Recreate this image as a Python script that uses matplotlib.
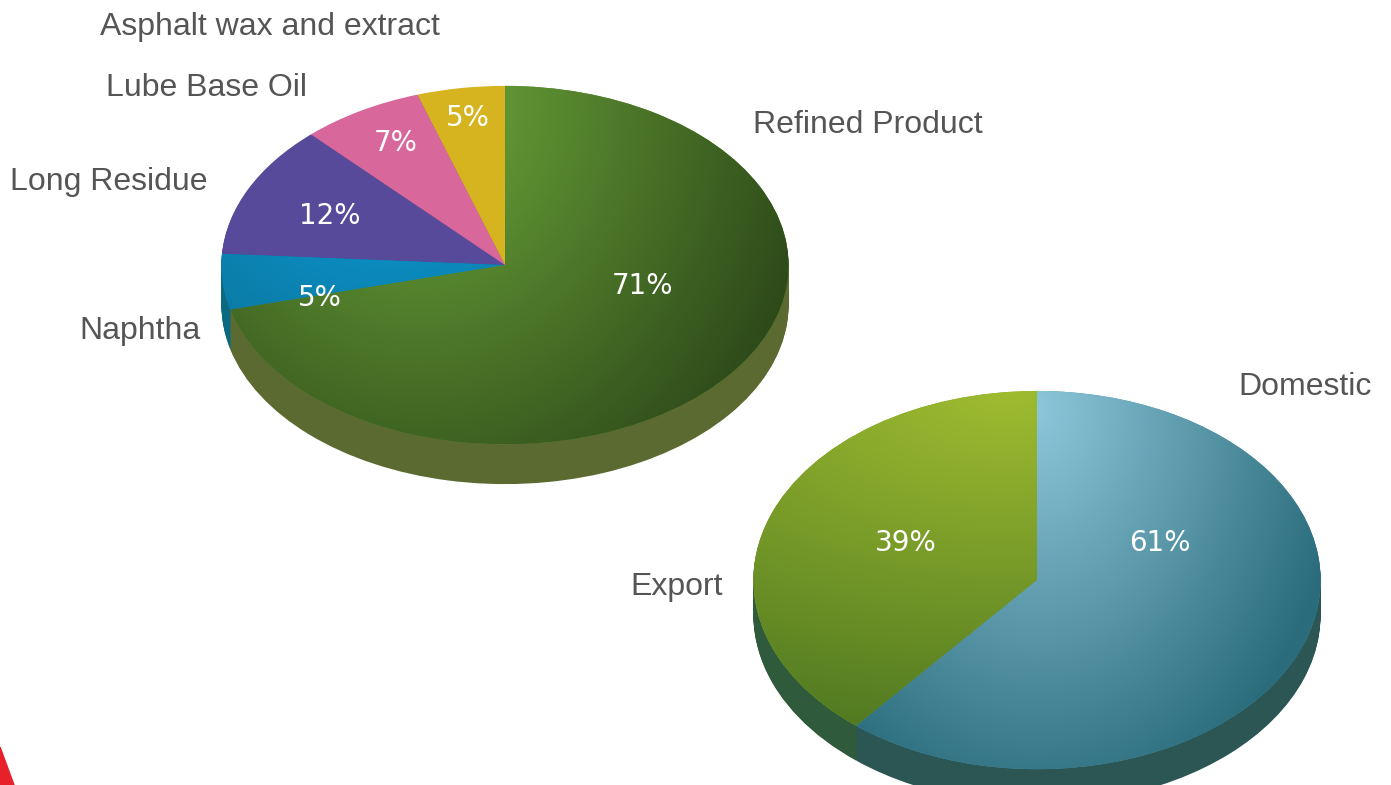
import numpy as np
import matplotlib.pyplot as plt
from matplotlib.colors import LinearSegmentedColormap
from matplotlib.patches import Polygon

plt.rcParams['font.family'] = 'sans-serif'
plt.rcParams['font.sans-serif'] = ['Liberation Sans', 'DejaVu Sans']

W, H = 1391, 785

# production split (top-left pie)
prod_labels = ["Asphalt wax and extract", "Lube Base Oil", "Long Residue", "Naphtha", "Refined Product"]
prod_values = [5, 7, 12, 5, 71]
# sales split (bottom-right pie)
sales_labels = ["Export", "Domestic"]
sales_values = [39, 61]

prod_top = ["#d6b41f", "#d8679b", "#574a9b", "#0a8cc4", "#5a8a2e"]
prod_side = ["#a88c18", "#a84f78", "#3f3570", "#0b6a82", "#5a6a30"]
sales_top = ["#8fb02c", "#4d97ab"]
sales_side = ["#2f5a3c", "#2c5654"]

# gradients on the top faces: wedge index -> (light, dark, light point, x/y weight, scale)
prod_shade = {3: ("#0b93cb", "#0b6b8c", (-0.4, 0.3), (1.0, 1.0), 1.4),
              4: ("#6ea83a", "#2c4819", (-0.3, 0.9), (1.0, 0.55), 1.45)}
sales_shade = {0: ("#9fbc30", "#4a7420", (-0.1, 1.0), (0.8, 1.0), 2.0),
               1: ("#8dc6da", "#2a6c7c", (0.0, 0.9), (1.0, 0.5), 1.1)}

# label layout in pixels (x, y, ha)
prod_label_pos = [(100, 27, "left"), (106, 88, "left"), (10, 182, "left"),
                  (79, 331, "left"), (753, 125, "left")]
prod_pct_pos = [(468, 118), (396, 143), (330, 216), (320, 298), (643, 286)]
sales_label_pos = [(630, 587, "left"), (1238, 387, "left")]
sales_pct_pos = [(906, 543), (1160, 543)]


def add_pie_axes(fig, cx, cy, rx, ry, depth):
    ax = fig.add_axes([(cx - rx) / W, (H - cy - ry - depth) / H,
                       2 * rx / W, (2 * ry + depth) / H])
    return ax, depth / ry


def shade(ax, wedge, light, dark, lp, wt, scale):
    xs = np.linspace(-1, 1, 300)
    X, Y = np.meshgrid(xs, xs)
    t = np.clip(np.hypot((X - lp[0]) * wt[0], (Y - lp[1]) * wt[1]) / scale, 0, 1)
    cmap = LinearSegmentedColormap.from_list("g", [light, dark])
    im = ax.imshow(t, cmap=cmap, vmin=0, vmax=1, extent=(-1, 1, -1, 1),
                   origin="lower", aspect="auto", zorder=3, interpolation="bilinear")
    im.set_clip_path(wedge)


def pie3d(ax, d, values, top, side, shades, steps=40):
    for k in range(steps, 0, -1):
        ax.pie(values, startangle=90, counterclock=True, colors=side,
               center=(0, -d * k / steps), radius=1,
               wedgeprops=dict(linewidth=0))
    wedges, _ = ax.pie(values, startangle=90, counterclock=True, colors=top,
                       center=(0, 0), radius=1, wedgeprops=dict(linewidth=0))
    for i, (light, dark, lp, wt, scale) in shades.items():
        shade(ax, wedges[i], light, dark, lp, wt, scale)
    ax.set_aspect("auto")
    ax.set_xlim(-1.005, 1.005)
    ax.set_ylim(-1 - d - 0.005, 1.005)
    ax.axis("off")


fig = plt.figure(figsize=(W / 100, H / 100), dpi=100)

ax1, d1 = add_pie_axes(fig, 505, 265, 285, 180, 40)
pie3d(ax1, d1, prod_values, prod_top, prod_side, prod_shade)

ax2, d2 = add_pie_axes(fig, 1037, 580, 285, 190, 35)
pie3d(ax2, d2, sales_values, sales_top, sales_side, sales_shade)

label_kw = dict(fontsize=23, color="#555555", va="center")
pct_kw = dict(fontsize=20, color="white", va="center", ha="center",
              family="DejaVu Sans", zorder=10)

for lab, (x, y, ha) in zip(prod_labels, prod_label_pos):
    fig.text(x / W, 1 - y / H, lab, ha=ha, **label_kw)
for v, (x, y) in zip(prod_values, prod_pct_pos):
    fig.text(x / W, 1 - y / H, f"{v}%", **pct_kw)
for lab, (x, y, ha) in zip(sales_labels, sales_label_pos):
    fig.text(x / W, 1 - y / H, lab, ha=ha, **label_kw)
for v, (x, y) in zip(sales_values, sales_pct_pos):
    fig.text(x / W, 1 - y / H, f"{v}%", **pct_kw)

# red corner decoration
fig.patches.append(Polygon([(0, 1 - 747 / H), (14 / W, 0), (0, 0)],
                           closed=True, color="#e8202a", transform=fig.transFigure))

fig.savefig("out.png", dpi=100)
